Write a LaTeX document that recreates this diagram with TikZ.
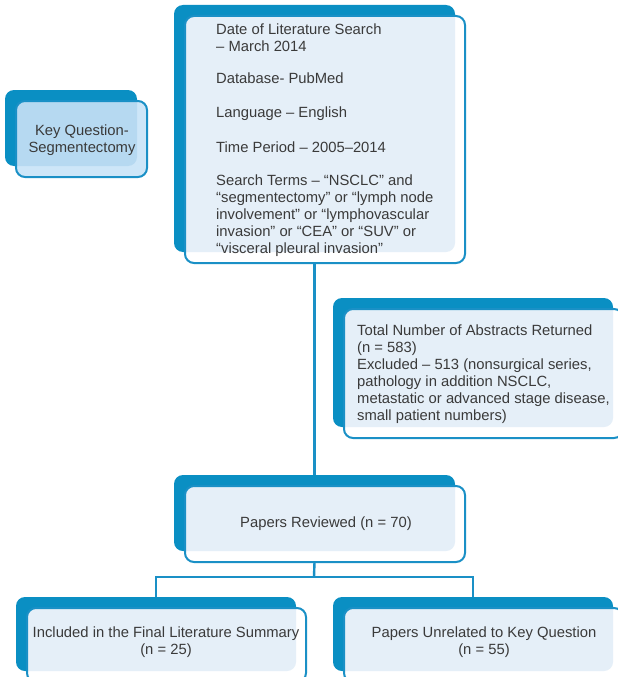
\documentclass[tikz,border=0pt]{standalone}
\usepackage{fontspec}
\setmainfont{Liberation Sans}
\definecolor{deepblue}{HTML}{0A8FC3}
\definecolor{edgeblue}{HTML}{1A90C6}
\definecolor{paleblue}{HTML}{E5EFF8}
\definecolor{keyinner}{HTML}{B6D9F1}
\definecolor{keyouter}{HTML}{CDE6F8}
\definecolor{inkgrey}{HTML}{3A3A3A}
% #1 name, (#2,#3)-(#4,#5) back panel, #6 overlap fill, #7 front fill
\newcommand\stackbox[7]{%
  \fill[deepblue, rounded corners=9pt] (#2,#3) rectangle (#4,#5);
  \fill[#7, rounded corners=9pt] ({#2+11},{#3+11}) rectangle ({#4+10},{#5+11});
  \begin{scope}
    \clip[rounded corners=9pt] (#2,#3) rectangle (#4,#5);
    \fill[#6, rounded corners=9pt] ({#2+11},{#3+11}) rectangle ({#4+10},{#5+11});
  \end{scope}
  \draw[edgeblue, line width=2pt, rounded corners=9pt] ({#2+11},{#3+11}) rectangle ({#4+10},{#5+11});
  \coordinate (#1-n) at ({(#2+#4)/2},#3);
  \coordinate (#1-s) at ({(#2+#4)/2},{#5+11});
}
\tikzset{
  label/.style={text=inkgrey, font=\fontsize{14.8}{17}\selectfont, inner sep=0pt, yshift=-1.6pt},
  leftlabel/.style={label, align=left, anchor=west},
  midlabel/.style={label, align=center},
  conn/.style={edgeblue, line width=2.4pt}
}
\begin{document}
\begin{tikzpicture}[x=1pt,y=-1pt]
  \fill[white] (0,0) rectangle (618,677);
  \useasboundingbox (0,0) rectangle (618,677);

  % panels
  \stackbox{key}{5}{90}{137}{166}{keyinner}{keyouter}
  \stackbox{search}{174}{5}{455}{252}{paleblue}{white}
  \stackbox{abstr}{333}{298}{613}{427}{paleblue}{white}
  \stackbox{review}{174}{475}{455}{551}{paleblue}{white}
  \stackbox{incl}{16}{597}{296}{671}{paleblue}{white}
  \stackbox{unrel}{333}{597}{613}{671}{paleblue}{white}

  % connectors
  \coordinate (split) at (314,577);
  \draw[conn] (search-s) -- (review-n);
  \draw[conn] (review-s) -- (split);
  \draw[conn] (split) -| (incl-n);
  \draw[conn] (split) -| (unrel-n);

  % texts
  \node[midlabel] (keyq) at (82,139) {Key Question-\\Segmentectomy};
  \node[leftlabel] (date) at (216,36.5) {Date of Literature Search\\– March 2014};
  \node[leftlabel] (db) at (216,77) {Database- PubMed};
  \node[leftlabel] (lang) at (216,112) {Language – English};
  \node[leftlabel] (period) at (216,146) {Time Period – 2005–2014};
  \node[leftlabel] (terms) at (216,214) {Search Terms – “NSCLC” and\\“segmentectomy” or “lymph node\\involvement” or “lymphovascular\\invasion” or “CEA” or “SUV” or\\“visceral pleural invasion”};
  \node[leftlabel] (abtext) at (357,372.5) {Total Number of Abstracts Returned\\(n = 583)\\Excluded – 513 (nonsurgical series,\\pathology in addition NSCLC,\\metastatic or advanced stage disease,\\small patient numbers)};
  \node[midlabel] (revtext) at (326,522) {Papers Reviewed (n = 70)};
  \node[midlabel] (incltext) at (166,641) {Included in the Final Literature Summary\\(n = 25)};
  \node[midlabel] (unreltext) at (484,641) {Papers Unrelated to Key Question\\(n = 55)};
\end{tikzpicture}
\end{document}
